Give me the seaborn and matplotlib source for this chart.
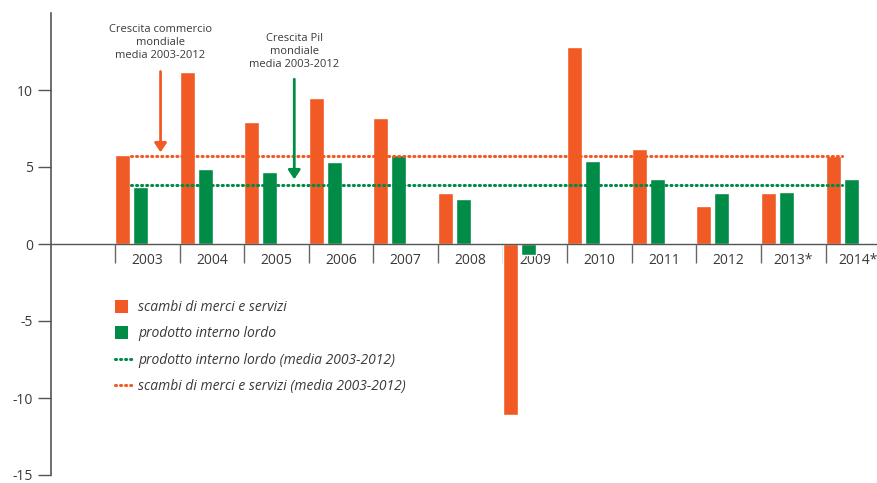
import matplotlib
matplotlib.use("Agg")
import matplotlib.pyplot as plt
import seaborn as sns
import pandas as pd
from matplotlib.lines import Line2D
from matplotlib.patches import Patch, Rectangle
from matplotlib.legend_handler import HandlerPatch

# ---- data ----
years = ["2003", "2004", "2005", "2006", "2007", "2008", "2009",
         "2010", "2011", "2012", "2013*", "2014*"]
trade = [5.8, 11.2, 7.9, 9.5, 8.2, 3.3, -11.1, 12.8, 6.2, 2.5, 3.3, 5.7]
gdp = [3.7, 4.9, 4.7, 5.3, 5.8, 2.9, -0.7, 5.4, 4.2, 3.3, 3.4, 4.2]
trade_avg = 5.7
gdp_avg = 3.8
series_names = ["scambi di merci e servizi", "prodotto interno lordo"]
avg_names = ["prodotto interno lordo (media 2003-2012)",
             "scambi di merci e servizi (media 2003-2012)"]
y_ticks = [-15, -10, -5, 0, 5, 10]

ORANGE = "#F15A24"
GREEN = "#008C47"
TEXT = "#3a3a3a"
AXIS = "#555555"

sns.set_theme(style="white")
plt.rcParams["font.family"] = ["Open Sans", "DejaVu Sans"]
plt.rcParams["axes.unicode_minus"] = False

df = pd.DataFrame({
    "year": years * 2,
    "value": trade + gdp,
    "series": [series_names[0]] * len(years) + [series_names[1]] * len(years),
})

fig = plt.figure(figsize=(8.78, 4.83), dpi=100)
ax = fig.add_axes([51 / 878, 8 / 483, 1 - 51 / 878, (476 - 14) / 483])

sns.barplot(data=df, x="year", y="value", hue="series", hue_order=series_names,
            palette=[ORANGE, GREEN], saturation=1, width=0.558, gap=0.168,
            errorbar=None, legend=False, ax=ax, zorder=2)

LW = 2.2
dots = (0, (0.35, 1.3))
n = len(years)
ax.plot([0, n - 1], [trade_avg, trade_avg], color=ORANGE, lw=LW,
        linestyle=dots, dash_capstyle="round", zorder=3)
ax.plot([0, n - 1], [gdp_avg, gdp_avg], color=GREEN, lw=LW,
        linestyle=dots, dash_capstyle="round", zorder=3)

# axes styling
ax.set_xlim(-1.246, 11.556)
ax.set_ylim(-15, 15)
ax.set_xlabel("")
ax.set_ylabel("")
for s in ["top", "right"]:
    ax.spines[s].set_visible(False)
ax.spines["bottom"].set_position(("data", 0))
ax.spines["bottom"].set_color(AXIS)
ax.spines["bottom"].set_linewidth(1.0)
ax.spines["left"].set_color(AXIS)
ax.spines["left"].set_linewidth(1.2)

ax.set_yticks(y_ticks)
ax.set_yticklabels([str(v) for v in y_ticks])
ax.tick_params(axis="y", which="major", length=9.4, width=1.0, color=AXIS,
               pad=3.6, labelsize=10, labelcolor=TEXT, left=True)

sep_pos = [i - 0.255 for i in range(n)]
lab_pos = [i + 0.245 for i in range(n)]
ax.set_xticks(sep_pos)
ax.set_xticklabels([""] * n)
ax.set_xticks(lab_pos, minor=True)
ax.set_xticklabels(years, minor=True)
ax.tick_params(axis="x", which="major", length=13.7, width=1.0, color="#666666",
               direction="out", bottom=True)
ax.tick_params(axis="x", which="minor", length=0, pad=6.3, labelsize=10,
               labelcolor=TEXT, bottom=True)

# annotations
ax.text(0.45, 13.1, "Crescita commercio\nmondiale\nmedia 2003-2012",
        ha="center", va="center", fontsize=8, linespacing=1.25, color=TEXT)
ax.text(2.52, 12.52, "Crescita Pil\nmondiale\nmedia 2003-2012",
        ha="center", va="center", fontsize=8, linespacing=1.25, color=TEXT)
ax.annotate("", xy=(0.45, 5.95), xytext=(0.45, 11.2),
            arrowprops=dict(arrowstyle="-|>,head_length=0.45,head_width=0.3",
                            color=ORANGE, lw=2, shrinkA=0, shrinkB=0))
ax.annotate("", xy=(2.52, 4.2), xytext=(2.52, 10.7),
            arrowprops=dict(arrowstyle="-|>,head_length=0.45,head_width=0.3",
                            color=GREEN, lw=2, shrinkA=0, shrinkB=0))


def square(legend, orig_handle, xdescent, ydescent, width, height, fontsize):
    s = 9.4
    return Rectangle((-xdescent, -ydescent + (height - s) / 2), s, s)


handles = [
    Patch(facecolor=ORANGE, edgecolor="none", label=series_names[0]),
    Patch(facecolor=GREEN, edgecolor="none", label=series_names[1]),
    Line2D([], [], color=GREEN, lw=LW, linestyle=dots,
           dash_capstyle="round", label=avg_names[0]),
    Line2D([], [], color=ORANGE, lw=LW, linestyle=dots,
           dash_capstyle="round", label=avg_names[1]),
]
leg = fig.legend(handles=handles, loc="upper left",
                 bbox_to_anchor=(115 / 878, 1 - 300 / 483),
                 frameon=False, borderpad=0, borderaxespad=0,
                 handlelength=1.35, handletextpad=0.3, labelspacing=0.82,
                 prop={"size": 10, "style": "italic"},
                 handler_map={Patch: HandlerPatch(patch_func=square)})
for t in leg.get_texts():
    t.set_color(TEXT)

fig.savefig("out.png", dpi=100)
